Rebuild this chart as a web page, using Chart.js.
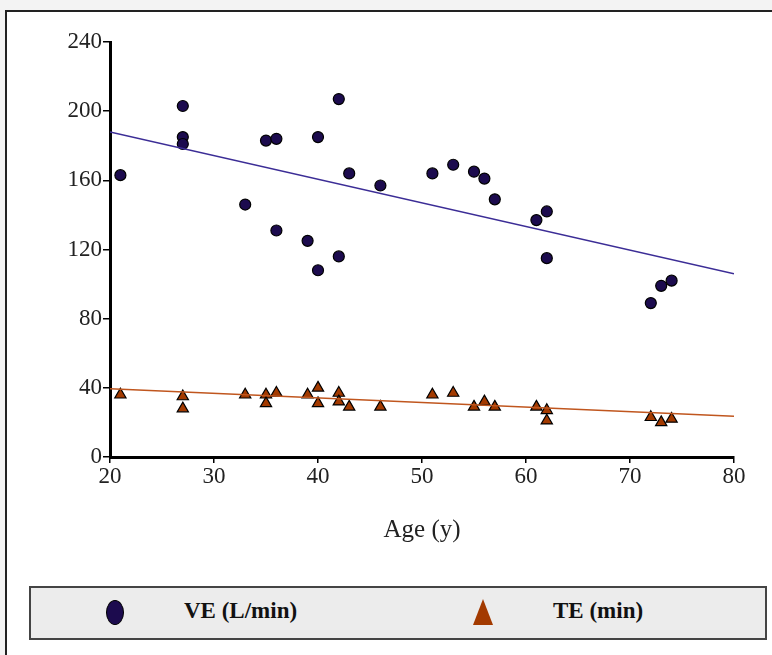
<!DOCTYPE html>
<html lang="en">
<head>
  <meta charset="UTF-8">
  <title>VE and TE by age</title>
  <script src="https://cdn.jsdelivr.net/npm/chart.js"></script>
  <style>
    body {
      background: #f3f3f3;
      margin: 0;
      width: 772px;
      height: 655px;
      overflow: hidden;
      font-family: 'Liberation Serif', serif;
    }
    .panel {
      position: absolute;
      left: 5px;
      top: 10px;
      width: 800px;
      height: 700px;
      background: #fff;
      border: 2px solid #222;
    }
    .chart-wrap {
      position: absolute;
      left: 0;
      top: 0;
      width: 772px;
      height: 560px;
    }
    .legend {
      position: absolute;
      left: 29px;
      top: 586px;
      width: 734px;
      height: 50px;
      background: #ececec;
      border: 2px solid #444;
    }
    .legend span {
      position: absolute;
      top: 10px;
      font-weight: bold;
      font-size: 23px;
      color: #111;
    }
    .dot {
      position: absolute;
      left: 75px;
      top: 12px;
      width: 16px;
      height: 23px;
      border-radius: 50%;
      background: #1c0b4e;
      border: 1px solid #000;
    }
    .tri {
      position: absolute;
      left: 442px;
      top: 11px;
      width: 0;
      height: 0;
      border-left: 10px solid transparent;
      border-right: 10px solid transparent;
      border-bottom: 26px solid #a33a00;
    }
  </style>
</head>
<body>
  <div class="panel"></div>
  <div class="chart-wrap"><canvas id="chart" width="772" height="560"></canvas></div>
  <div class="legend">
    <div class="dot"></div><span style="left:153px">VE (L/min)</span>
    <div class="tri"></div><span style="left:522px">TE (min)</span>
  </div>

  <script>
    // VE (L/min) per subject
    const veAges = [21, 27, 27, 27, 33, 35, 36, 36, 39, 40, 40, 42, 42, 43, 46, 51, 53, 55, 56, 57, 61, 62, 62, 72, 73, 74];
    const veValues = [163, 203, 185, 181, 146, 183, 184, 131, 125, 108, 185, 207, 116, 164, 157, 164, 169, 165, 161, 149, 137, 142, 115, 89, 99, 102];

    // TE (min) per subject
    const teAges = [21, 27, 27, 33, 35, 35, 36, 39, 40, 40, 42, 42, 43, 46, 51, 53, 55, 56, 57, 61, 62, 62, 72, 73, 74];
    const teValues = [36, 35, 28, 36, 36, 31, 37, 36, 40, 31, 37, 32, 29, 29, 36, 37, 29, 32, 29, 29, 27, 21, 23, 20, 22];

    // regression lines
    const fitAges = [20, 80];
    const veFit = [188, 106];
    const teFit = [39.5, 23.5];

    const pts = (xs, ys) => xs.map((x, i) => ({ x: x, y: ys[i] }));
    const tickFont = { family: "'Liberation Serif', serif", size: 23 };

    new Chart(document.getElementById("chart"), {
      type: "scatter",
      data: {
        datasets: [
          { label: "VE fit", type: "line", data: pts(fitAges, veFit), borderColor: "#3c2d96", borderWidth: 1.5, pointRadius: 0, fill: false },
          { label: "TE fit", type: "line", data: pts(fitAges, teFit), borderColor: "#c0561e", borderWidth: 1.5, pointRadius: 0, fill: false },
          { label: "VE (L/min)", data: pts(veAges, veValues), pointStyle: "circle", pointRadius: 5.5, backgroundColor: "#1c0b4e", borderColor: "#000", borderWidth: 1.2 },
          { label: "TE (min)", data: pts(teAges, teValues), pointStyle: "triangle", pointRadius: 6.5, backgroundColor: "#a33a00", borderColor: "#000", borderWidth: 1.2 }
        ]
      },
      options: {
        responsive: false,
        animation: false,
        layout: { padding: { left: 0, right: 38, top: 42, bottom: 0 } },
        plugins: { legend: { display: false }, tooltip: { enabled: false } },
        scales: {
          x: {
            type: "linear", min: 20, max: 80,
            ticks: { stepSize: 10, color: "#222", font: tickFont, padding: 0, maxRotation: 0 },
            grid: { drawOnChartArea: false, drawTicks: true, tickLength: 6, color: "#000", lineWidth: 1.5 },
            border: { display: true, color: "#000", width: 3 },
            title: { display: true, text: "Age (y)", color: "#222", font: { family: "'Liberation Serif', serif", size: 25 }, padding: { top: 0, bottom: 15 } },
            afterFit: s => { s.height = 103; }
          },
          y: {
            min: 0, max: 240,
            ticks: { stepSize: 40, color: "#222", font: tickFont, padding: 1 },
            grid: { drawOnChartArea: false, drawTicks: true, tickLength: 7, color: "#000", lineWidth: 1.5 },
            border: { display: true, color: "#000", width: 3 },
            afterFit: s => { s.width = 110; }
          }
        }
      }
    });
  </script>
</body>
</html>
